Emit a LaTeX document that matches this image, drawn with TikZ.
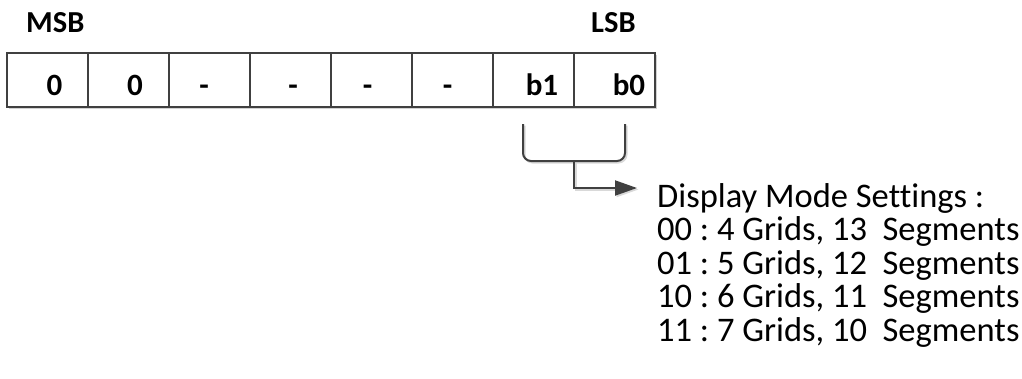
\documentclass[tikz,border=0pt]{standalone}
\usepackage{fontspec}
\setmainfont{Carlito}[Ligatures=CommonOff]
\usepackage{tikz}
\usetikzlibrary{calc}
\usetikzlibrary{shapes}
\usetikzlibrary{shadows}
\usetikzlibrary{arrows.meta}
\frenchspacing

\begin{document}
\begin{tikzpicture}[x=1pt, y=1pt,
 bitcell/.style={draw=black!75, fill=white, line width=2pt, minimum width=81pt, minimum height=54pt, inner sep=0pt,
  drop shadow={shadow xshift=2pt, shadow yshift=-2pt, fill=black!18, opacity=1}},
 bitlabel/.style={font=\fontsize{31}{31}\selectfont\bfseries, inner sep=0pt, anchor=base},
 endlabel/.style={font=\fontsize{30.5}{30.5}\selectfont\bfseries, inner sep=0pt, anchor=base west},
 link/.style={draw=black!75, line width=2pt},
 modes/.style={font=\fontsize{34.5}{33.5}\selectfont, inner sep=0pt, align=left, anchor=base west}]
 \useasboundingbox (0,0) rectangle (1022,-378);
 \node[endlabel] (msb) at (26,-32) {MSB};
 \node[endlabel] (lsb) at (591,-32) {LSB};
 \node[bitcell] (c7) at (47.5,-80) {};
 \node[bitcell] (c6) at (128.5,-80) {};
 \node[bitcell] (c5) at (209.5,-80) {};
 \node[bitcell] (c4) at (290.5,-80) {};
 \node[bitcell] (c3) at (371.5,-80) {};
 \node[bitcell] (c2) at (452.5,-80) {};
 \node[bitcell] (c1) at (533.5,-80) {};
 \node[bitcell] (c0) at (614.5,-80) {};
 \node[bitlabel, xshift=7pt, yshift=-15pt] (l7) at (c7) {0};
 \node[bitlabel, xshift=6.5pt, yshift=-15pt] (l6) at (c6) {0};
 \node[bitlabel, xshift=-5.5pt, yshift=-15pt] (l5) at (c5) {-};
 \node[bitlabel, xshift=2.5pt, yshift=-15pt] (l4) at (c4) {-};
 \node[bitlabel, xshift=-4pt, yshift=-15pt] (l3) at (c3) {-};
 \node[bitlabel, xshift=-5pt, yshift=-15pt] (l2) at (c2) {-};
 \node[bitlabel, xshift=8.5pt, yshift=-15pt] (l1) at (c1) {b1};
 \node[bitlabel, xshift=14.5pt, yshift=-15pt] (l0) at (c0) {b0};
 \node[modes] (settings) at (657,-341) {Display Mode Settings :\\
  00 : 4 Grids, 13\ \ Segments\\
  01 : 5 Grids, 12\ \ Segments\\
  10 : 6 Grids, 11\ \ Segments\\
  11 : 7 Grids, 10\ \ Segments};
 \coordinate (brl) at ([xshift=-10.5pt, yshift=-16pt]c1.south);
 \coordinate (brr) at ([xshift=10.5pt, yshift=-16pt]c0.south);
 \coordinate (brm) at ($(brl)!0.5!(brr)+(0,-37)$);
 \coordinate (tip) at (637,-188);
 \draw[link, draw=black!15, rounded corners=8pt, transform canvas={xshift=1.5pt, yshift=-1.5pt}] (brl) |- (brm) -| (brr);
 \draw[link, draw=black!15, -{Triangle[length=22pt, width=15pt]}, transform canvas={xshift=1.5pt, yshift=-1.5pt}] (brm) |- (tip);
 \draw[link, rounded corners=8pt] (brl) |- (brm) -| (brr);
 \draw[link, -{Triangle[length=22pt, width=15pt]}] (brm) |- (tip);
\end{tikzpicture}
\end{document}
